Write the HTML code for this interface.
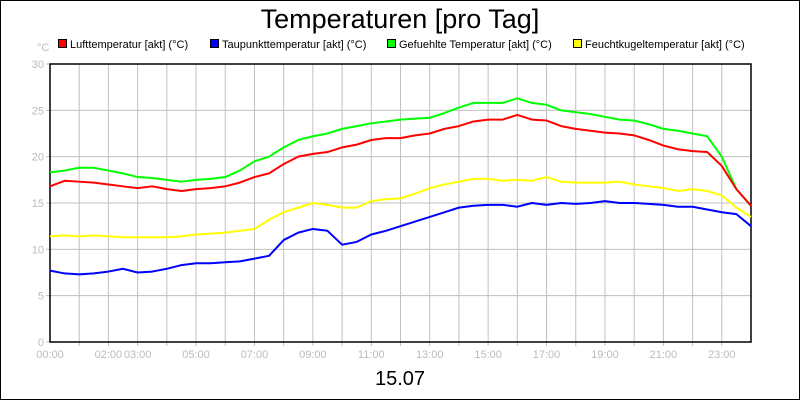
<!DOCTYPE html>
<html><head><meta charset="utf-8"><style>
html,body{margin:0;padding:0;background:#fff}
svg{display:block;font-family:"Liberation Sans",sans-serif}
</style></head><body>
<svg id="chart" width="800" height="400">
<rect x="0.5" y="0.5" width="799" height="399" fill="#fff" stroke="#000"/>
<text x="400" y="28" text-anchor="middle" font-size="27">Temperaturen [pro Tag]</text>
<g font-size="11">
<g><rect x="58.5" y="39.5" width="8" height="8" fill="#f00" stroke="#000"/><text x="70" y="48">Lufttemperatur [akt] (°C)</text></g>
<g><rect x="210.5" y="39.5" width="8" height="8" fill="#00f" stroke="#000"/><text x="222" y="48">Taupunkttemperatur [akt] (°C)</text></g>
<g><rect x="387.5" y="39.5" width="8" height="8" fill="#0f0" stroke="#000"/><text x="399" y="48">Gefuehlte Temperatur [akt] (°C)</text></g>
<g><rect x="573.5" y="39.5" width="8" height="8" fill="#ff0" stroke="#000"/><text x="585" y="48">Feuchtkugeltemperatur [akt] (°C)</text></g>
</g>
<text x="37" y="51" font-size="11" fill="#bbb">°C</text>
<g id="grid"></g><g id="axes"></g><g id="series"></g>
<text x="400" y="385" text-anchor="middle" font-size="20">15.07</text>
</svg>
<script>
const hours = [0,0.5,1,1.5,2,2.5,3,3.5,4,4.5,5,5.5,6,6.5,7,7.5,8,8.5,9,9.5,10,10.5,11,11.5,12,12.5,13,13.5,14,14.5,15,15.5,16,16.5,17,17.5,18,18.5,19,19.5,20,20.5,21,21.5,22,22.5,23,23.5,24];
const luft = [16.8,17.4,17.3,17.2,17.0,16.8,16.6,16.8,16.5,16.3,16.5,16.6,16.8,17.2,17.8,18.2,19.2,20.0,20.3,20.5,21.0,21.3,21.8,22.0,22.0,22.3,22.5,23.0,23.3,23.8,24.0,24.0,24.5,24.0,23.9,23.3,23.0,22.8,22.6,22.5,22.3,21.8,21.2,20.8,20.6,20.5,19.0,16.5,14.7];
const gefuehlt = [18.3,18.5,18.8,18.8,18.5,18.2,17.8,17.7,17.5,17.3,17.5,17.6,17.8,18.5,19.5,20.0,21.0,21.8,22.2,22.5,23.0,23.3,23.6,23.8,24.0,24.1,24.2,24.7,25.3,25.8,25.8,25.8,26.3,25.8,25.6,25.0,24.8,24.6,24.3,24.0,23.9,23.5,23.0,22.8,22.5,22.2,20.0,16.5,14.7];
const feucht = [11.4,11.5,11.4,11.5,11.4,11.3,11.3,11.3,11.3,11.4,11.6,11.7,11.8,12.0,12.2,13.2,14.0,14.5,15.0,14.8,14.5,14.5,15.2,15.4,15.5,16.0,16.6,17.0,17.3,17.6,17.6,17.4,17.5,17.4,17.8,17.3,17.2,17.2,17.2,17.3,17.0,16.8,16.6,16.3,16.5,16.3,15.8,14.5,13.5];
const taupunkt = [7.7,7.4,7.3,7.4,7.6,7.9,7.5,7.6,7.9,8.3,8.5,8.5,8.6,8.7,9.0,9.3,11.0,11.8,12.2,12.0,10.5,10.8,11.6,12.0,12.5,13.0,13.5,14.0,14.5,14.7,14.8,14.8,14.6,15.0,14.8,15.0,14.9,15.0,15.2,15.0,15.0,14.9,14.8,14.6,14.6,14.3,14.0,13.8,12.5];
const yTicks = [0,5,10,15,20,25,30];
const xTickLabels = ["00:00","02:00","03:00","05:00","07:00","09:00","11:00","13:00","15:00","17:00","19:00","21:00","23:00"];
const xTickHours = [0,2,3,5,7,9,11,13,15,17,19,21,23];

const L=50,R=751,T=64,B=342, NS="http://www.w3.org/2000/svg";
const x=h=>L+(R-L)*h/24, y=v=>B-(B-T)*v/30;
function mk(tag,attrs,parent){const e=document.createElementNS(NS,tag);for(const k in attrs)e.setAttribute(k,attrs[k]);parent.appendChild(e);return e;}
const grid=document.getElementById('grid'),axes=document.getElementById('axes'),series=document.getElementById('series');
for(let h=1;h<24;h++){
  const g=mk('line',{x1:x(h),x2:x(h),y1:T,y2:B+4,stroke:'#c0c0c0'},grid);
  
  
}
yTicks.forEach(v=>{
  const g=mk('line',{x1:L-4,x2:R,y1:y(v),y2:y(v),stroke:'#c0c0c0'},grid);
  
  
  const t=mk('text',{x:L-6,y:y(v)+4,'text-anchor':'end','font-size':11,fill:'#bbb'},axes);
  t.textContent=v;
  
  
});
xTickLabels.forEach((s,i)=>{
  const t=mk('text',{x:x(xTickHours[i]),y:B+16,'text-anchor':'middle','font-size':11,fill:'#bbb'},axes);
  t.textContent=s;
  
  
});
const fr=mk('rect',{x:L,y:T,width:R-L,height:B-T,fill:'none',stroke:'#000','stroke-width':1.5},axes);


[[gefuehlt,'#0f0','series-gefuehlt'],[luft,'#f00','series-luft'],[feucht,'#ff0','series-feuchtkugel'],[taupunkt,'#00f','series-taupunkt']].forEach(([d,c,n])=>{
  const p=mk('polyline',{points:d.map((v,i)=>x(hours[i])+','+y(v)).join(' '),fill:'none',stroke:c,'stroke-width':2,'stroke-linejoin':'round'},series);
  
  
});
</script>
</body></html>
